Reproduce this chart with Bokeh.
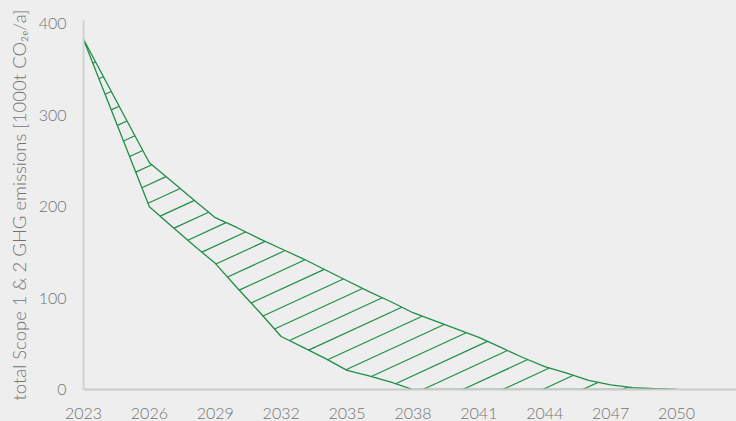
import numpy as np
from bokeh.plotting import figure
from bokeh.models import FixedTicker, Range1d, Title, ColumnDataSource
from bokeh.embed import file_html
from bokeh.resources import INLINE

# ---- data ----
years = list(range(2023, 2051))
upper = [383, 338, 293, 248, 228, 208, 188, 177, 165, 154, 143, 131, 119, 107,
         96, 84, 75, 66, 57, 46, 35, 25, 18, 10, 5, 2, 1, 0]
lower = [383, 322, 261, 200, 179, 158, 138, 111, 85, 58, 46, 34, 21, 15,
         8, 0, 0, 0, 0, 0, 0, 0, 0, 0, 0, 0, 0, 0]
x_ticks = list(range(2023, 2051, 3))
y_ticks = [0, 100, 200, 300, 400]
y_title = "total Scope 1 & 2 GHG emissions [1000t CO\u2082\u2091/a]"

# ---- style ----
GREEN = "#1f8e48"
BG = "#eeeeee"
TXT = "#737373"
FONT = "'Lato Light', Lato"

p = figure(width=736, height=421, output_backend="svg", toolbar_location=None,
           x_range=Range1d(2023, 2052.73), y_range=Range1d(0, 403.7),
           min_border_left=82, min_border_top=20, min_border_right=0,
           min_border_bottom=32)
p.background_fill_color = BG
p.border_fill_color = BG
p.outline_line_color = None
p.xgrid.visible = False
p.ygrid.visible = False

# hatch lines (about 25 deg, constant screen spacing) clipped to the band
px_per_year = 22.0
px_per_unit = 0.914
slope = 0.46 * px_per_year / px_per_unit     # data units per year
spacing = 40.0 / px_per_year                 # years between hatch lines
phase = 2038.45
xs = np.linspace(years[0], years[-1], 8000)
lo = np.interp(xs, years, lower)
hi = np.interp(xs, years, upper)
hx0, hy0, hx1, hy1 = [], [], [], []
k_min = int(np.floor((years[0] - 40 - phase) / spacing))
k_max = int(np.ceil((years[-1] - phase) / spacing))
for k in range(k_min, k_max + 1):
    x0 = phase + k * spacing
    ys = slope * (xs - x0)
    inside = (ys >= lo - 1e-9) & (ys <= hi + 1e-9)
    if inside.sum() < 2:
        continue
    idx = np.where(inside)[0]
    a, b = idx[0], idx[-1]
    hx0.append(xs[a]); hy0.append(ys[a]); hx1.append(xs[b]); hy1.append(ys[b])
p.segment(x0=hx0, y0=hy0, x1=hx1, y1=hy1, line_color=GREEN, line_width=1.2)

src = ColumnDataSource(dict(year=years, upper=upper, lower=lower))
p.line("year", "upper", source=src, line_color=GREEN, line_width=1.3)
p.line("year", "lower", source=src, line_color=GREEN, line_width=1.3)

# axes
p.xaxis.ticker = FixedTicker(ticks=x_ticks)
p.yaxis.ticker = FixedTicker(ticks=y_ticks)
for ax in (p.xaxis, p.yaxis):
    ax.major_tick_line_color = None
    ax.minor_tick_line_color = None
    ax.major_label_text_font = FONT
    ax.major_label_text_font_size = "16px"
    ax.major_label_text_color = TXT
p.xaxis.axis_line_color = "#cacaca"
p.xaxis.axis_line_width = 2.2
p.yaxis.axis_line_color = "#d2d2d2"
p.yaxis.axis_line_width = 2
p.xaxis.major_label_standoff = 12
p.yaxis.major_label_standoff = 11

p.add_layout(Title(text=y_title, align="center", offset=-10, standoff=11,
                   text_font=FONT, text_font_size="18.5px",
                   text_font_style="normal", text_color=TXT), "left")

html = file_html(p, INLINE)
html = html.replace("<head>", "<head><style>body{background:#eeeeee;}</style>", 1)
open("out.html", "w").write(html)
